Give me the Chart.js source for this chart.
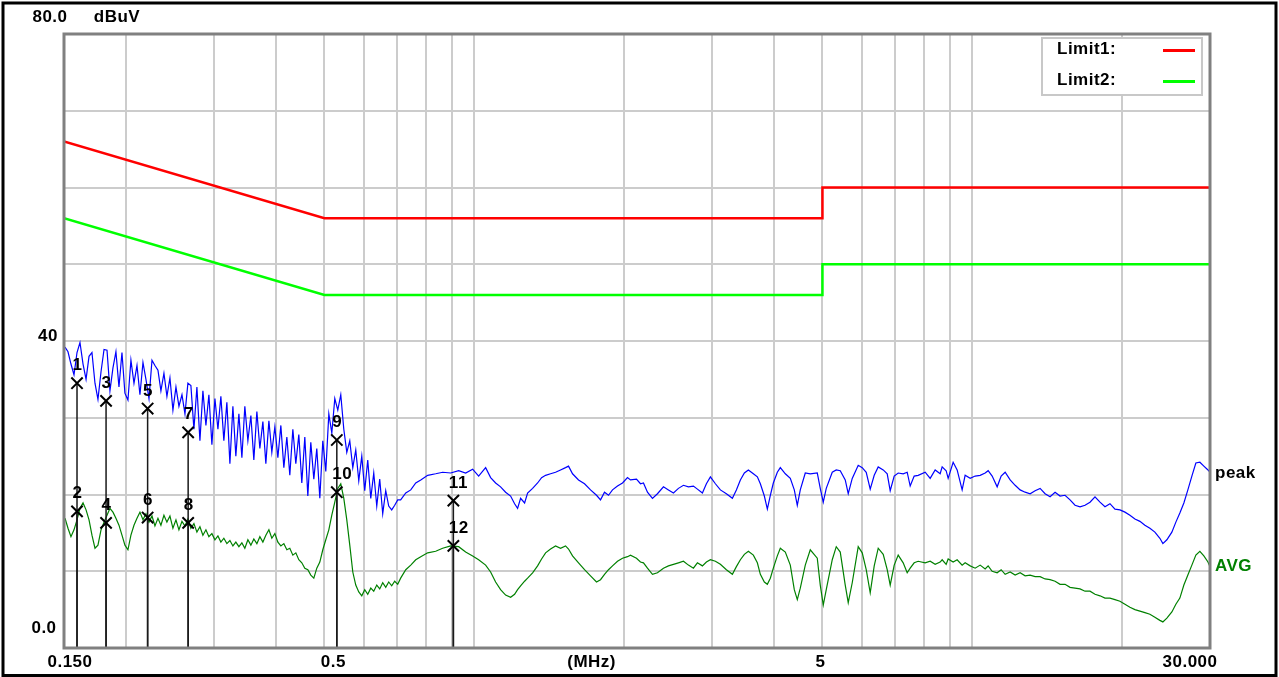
<!DOCTYPE html>
<html>
<head>
<meta charset="utf-8">
<title>Conducted emission dBuV</title>
<script src="https://cdn.jsdelivr.net/npm/chart.js@4.4.1/dist/chart.umd.min.js"></script>
<style>
  html, body { margin: 0; padding: 0; background: #fff; }
  #wrap { width: 1279px; height: 677px; }
</style>
</head>
<body>
<div id="wrap"><canvas id="emiChart" width="1279" height="677"></canvas></div>
<script>
// sweep 0.15 - 0.7 MHz (MHz, dBuV)
const freqLow = [
  0.1507, 0.1528, 0.1549, 0.1571, 0.1593, 0.1615, 0.1638, 0.1661, 0.1684, 0.1707,
  0.1731, 0.1755, 0.1780, 0.1805, 0.1830, 0.1855, 0.1881, 0.1907, 0.1934, 0.1961,
  0.1988, 0.2016, 0.2044, 0.2073, 0.2102, 0.2131, 0.2161, 0.2191, 0.2222, 0.2253,
  0.2284, 0.2316, 0.2348, 0.2381, 0.2414, 0.2448, 0.2482, 0.2517, 0.2552, 0.2588,
  0.2624, 0.2660, 0.2697, 0.2735, 0.2773, 0.2812, 0.2851, 0.2891, 0.2931, 0.2972,
  0.3014, 0.3056, 0.3098, 0.3141, 0.3185, 0.3230, 0.3275, 0.3320, 0.3367, 0.3414,
  0.3461, 0.3510, 0.3559, 0.3608, 0.3659, 0.3710, 0.3762, 0.3814, 0.3868, 0.3921,
  0.3976, 0.4032, 0.4088, 0.4145, 0.4203, 0.4261, 0.4321, 0.4381, 0.4442, 0.4504,
  0.4567, 0.4631, 0.4695, 0.4761, 0.4827, 0.4895, 0.4963, 0.5032, 0.5103, 0.5174,
  0.5246, 0.5319, 0.5393, 0.5469, 0.5545, 0.5622, 0.5701, 0.5780, 0.5861, 0.5943,
  0.6025, 0.6109, 0.6195, 0.6281, 0.6369, 0.6457, 0.6547, 0.6639, 0.6731, 0.6825,
  0.6920, 0.7017
];
const peakLow = [
  39.2, 38.6, 37.0, 35.6, 38.5, 39.8, 37.0, 35.0, 38.0, 38.5,
  34.5, 32.4, 36.0, 38.9, 38.8, 33.5, 36.5, 38.6, 34.0, 38.5,
  33.2, 32.3, 37.5, 34.5, 36.8, 33.0, 37.2, 35.0, 32.5, 37.5,
  36.8, 36.2, 33.5, 35.8, 32.8, 35.2, 31.0, 34.0, 31.5, 33.0,
  30.5, 34.5, 34.2, 28.5, 34.0, 27.0, 33.5, 29.0, 33.0, 26.5,
  32.5, 28.5, 32.8, 27.0, 32.0, 24.0, 31.5, 25.0, 30.5, 24.8,
  31.5, 27.0, 30.3, 24.5, 30.8, 26.0, 29.5, 24.0, 29.6, 25.5,
  28.8, 24.8, 29.0, 23.5, 27.5, 22.5, 28.5, 24.0, 27.8, 21.5,
  27.5, 19.8, 26.8, 22.0, 26.0, 19.5, 27.0, 23.0, 30.5, 28.0,
  32.5, 31.0, 33.0, 28.5, 25.5, 27.0, 23.5, 25.8, 21.8, 25.0,
  20.5, 24.5, 19.5, 22.8, 18.5, 22.0, 17.5, 20.5, 18.5, 18.0,
  18.6, 19.3
];
const avgLow = [
  16.9, 15.6, 14.5, 15.4, 16.7, 18.2, 18.9, 18.0, 16.7, 14.7,
  13.0, 13.4, 15.4, 16.4, 17.3, 18.2, 17.7, 16.9, 16.0, 14.7,
  13.4, 12.8, 14.7, 16.0, 16.9, 17.7, 16.7, 17.5, 16.4, 17.2,
  15.9, 16.9, 16.0, 17.3, 16.4, 17.2, 15.6, 16.7, 15.4, 16.5,
  15.9, 16.8, 15.6, 16.2, 15.1, 15.8, 14.7, 15.4, 14.5, 14.9,
  14.1, 14.6, 13.8, 14.3, 13.6, 14.0, 13.3, 13.8, 13.2, 13.7,
  13.0, 14.1, 13.4, 14.2, 13.6, 14.5, 13.8, 14.7, 15.4, 14.3,
  14.9, 13.8, 13.3, 13.6, 12.8, 13.0, 12.1, 12.4, 11.5, 11.1,
  10.4, 10.2, 9.5, 9.1, 10.4, 11.2, 12.8, 14.1, 15.4, 17.3,
  19.0, 20.8, 21.4, 19.5, 16.7, 13.4, 9.9, 8.2, 7.3, 6.8,
  7.6, 7.0, 7.8, 7.4, 8.2, 7.7, 8.5, 7.9, 8.6, 8.1,
  8.7, 8.3
];

// sweep 0.7 - 30 MHz
const freqHigh = [
  0.7113, 0.7283, 0.7453, 0.7627, 0.7806, 0.8060, 0.8364, 0.8637, 0.8963, 0.9301,
  0.9606, 0.9922, 1.0201, 1.0536, 1.0782, 1.1034, 1.1290, 1.1555, 1.1826, 1.2046,
  1.2214, 1.2385, 1.2616, 1.2792, 1.3091, 1.3397, 1.3646, 1.3901, 1.4225, 1.4557,
  1.4897, 1.5244, 1.5457, 1.5746, 1.6189, 1.6644, 1.7112, 1.7592, 1.7921, 1.8255,
  1.8596, 1.8942, 1.9385, 1.9838, 2.0301, 2.0584, 2.1162, 2.1557, 2.1857, 2.2265,
  2.2785, 2.3317, 2.3973, 2.4533, 2.5107, 2.5693, 2.6293, 2.6907, 2.7535, 2.8048,
  2.8703, 2.9238, 2.9784, 3.0480, 3.1192, 3.2069, 3.2970, 3.3585, 3.4211, 3.4848,
  3.5499, 3.6328, 3.7005, 3.7521, 3.8221, 3.8754, 3.9294, 3.9842, 4.0585, 4.1151,
  4.2111, 4.3094, 4.3897, 4.4510, 4.5130, 4.6184, 4.7262, 4.8816, 4.9497, 5.0188,
  5.0888, 5.2319, 5.3294, 5.4290, 5.5557, 5.6331, 5.7381, 5.8994, 6.0094, 6.1215,
  6.2356, 6.3520, 6.4705, 6.6216, 6.7451, 6.8392, 6.9667, 7.0967, 7.2624, 7.3979,
  7.5010, 7.6410, 7.7835, 8.0396, 8.2274, 8.4195, 8.6162, 8.6962, 8.8583, 8.9406,
  9.1494, 9.3200, 9.5377, 9.6708, 9.8987, 10.130, 10.367, 10.609, 10.757, 10.958,
  11.214, 11.423, 11.636, 11.908, 12.186, 12.470, 12.762, 13.060, 13.365, 13.677,
  13.996, 14.322, 14.657, 14.999, 15.349, 15.707, 16.074, 16.449, 16.833, 17.226,
  17.628, 18.040, 18.461, 18.892, 19.333, 19.784, 20.246, 20.718, 21.202, 21.697,
  22.203, 22.722, 23.252, 23.795, 24.127, 24.577, 25.151, 25.620, 26.098, 26.586,
  27.082, 27.588, 28.102, 28.627, 29.160, 29.719, 30.000
];
const peakHigh = [
  19.3, 20.2, 20.6, 21.5, 21.9, 22.5, 22.7, 22.9, 22.8, 23.1,
  22.8, 23.3, 22.4, 23.5, 22.2, 21.5, 21.0, 20.3, 19.8, 18.8,
  18.2, 19.5, 18.9, 20.2, 20.8, 21.5, 22.2, 22.5, 22.7, 22.9,
  23.2, 23.5, 23.7, 22.7, 21.9, 21.4, 20.6, 19.9, 19.3, 20.3,
  19.9, 20.6, 21.1, 21.5, 22.2, 21.9, 22.0, 21.4, 21.5, 20.3,
  19.5, 20.1, 21.0, 20.6, 20.2, 20.8, 21.2, 21.0, 21.1, 20.7,
  20.2, 21.4, 22.3, 21.4, 20.6, 20.1, 19.5, 20.6, 21.9, 22.8,
  23.2, 22.7, 22.3, 21.4, 19.8, 18.1, 19.9, 21.5, 22.9, 23.5,
  22.7, 22.1, 20.6, 18.6, 20.6, 22.8, 22.7, 22.8, 20.8, 19.0,
  20.8, 22.9, 23.2, 23.1, 21.9, 20.1, 22.1, 23.8, 23.5, 22.9,
  20.7, 22.5, 23.6, 23.2, 22.7, 20.5, 22.4, 22.8, 22.7, 22.9,
  21.1, 22.4, 22.5, 22.9, 22.1, 23.2, 22.7, 23.6, 23.1, 22.1,
  24.2, 23.2, 20.6, 22.5, 22.1, 22.4, 22.5, 22.8, 23.1, 22.4,
  21.0, 22.4, 22.9, 21.9, 21.2, 20.6, 20.3, 20.1, 20.5, 20.8,
  20.1, 19.7, 20.3, 19.8, 19.9, 19.3, 18.6, 18.4, 18.6, 19.0,
  19.7, 19.0, 18.4, 18.8, 18.1, 18.0, 17.7, 17.3, 16.8, 16.5,
  16.0, 15.6, 15.1, 14.3, 13.6, 14.1, 15.1, 16.4, 17.6, 18.9,
  20.6, 22.4, 24.1, 24.2, 23.7, 23.2, 22.9
];
const avgHigh = [
  9.1, 10.2, 10.8, 11.5, 11.9, 12.4, 12.6, 13.0, 13.3, 13.2,
  12.5, 12.0, 11.5, 10.8, 9.9, 8.6, 7.6, 6.9, 6.6, 7.0,
  7.6, 8.1, 8.7, 9.1, 9.8, 10.7, 11.6, 12.4, 12.9, 13.3,
  13.0, 13.3, 12.9, 12.0, 11.1, 10.2, 9.4, 8.6, 8.9, 9.6,
  10.2, 10.7, 11.3, 11.7, 11.9, 12.1, 11.7, 11.2, 11.1, 10.4,
  9.6, 9.8, 10.4, 10.7, 10.9, 11.1, 11.3, 10.8, 10.4, 11.1,
  10.7, 11.2, 11.5, 11.3, 10.9, 10.2, 9.6, 10.6, 11.5, 12.2,
  12.6, 12.1, 11.1, 9.6, 8.6, 8.3, 9.1, 10.4, 12.0, 13.0,
  12.5, 10.8, 7.6, 6.3, 7.8, 10.8, 12.8, 11.7, 8.2, 5.6,
  7.6, 11.5, 13.2, 12.5, 8.2, 5.9, 8.5, 13.2, 12.4, 10.2,
  7.2, 10.7, 13.0, 12.2, 10.2, 8.2, 10.8, 12.1, 11.1, 9.8,
  10.4, 11.1, 11.3, 11.1, 11.3, 10.9, 11.2, 11.5, 10.9, 11.6,
  11.2, 11.5, 10.8, 11.1, 10.7, 10.4, 10.8, 10.3, 10.7, 10.0,
  9.8, 10.2, 9.6, 9.9, 9.5, 9.8, 9.4, 9.5, 9.3, 9.3,
  9.0, 8.9, 8.7, 8.3, 8.3, 7.9, 7.8, 7.7, 7.4, 7.4,
  7.0, 6.8, 6.5, 6.5, 6.3, 6.1, 5.7, 5.3, 5.0, 4.8,
  4.6, 4.4, 4.0, 3.6, 3.4, 3.9, 4.7, 5.7, 6.5, 8.2,
  9.5, 10.8, 12.1, 12.6, 12.0, 11.2, 10.6
];

// limit lines
const limitFreq = [0.15, 0.5, 5, 5, 30];
const limit1Level = [66, 56, 56, 60, 60];
const limit2Level = [56, 46, 46, 50, 50];

// markers
const markerNo = ['1', '2', '3', '4', '5', '6', '7', '8', '9', '10', '11', '12'];
const markerFreq = [0.1593, 0.1593, 0.1822, 0.1822, 0.2208, 0.2208, 0.2663, 0.2663, 0.5295, 0.5295, 0.9076, 0.9076];
const markerLevel = [34.5, 17.8, 32.2, 16.3, 31.2, 17.0, 28.1, 16.3, 27.1, 20.3, 19.2, 13.3];

// axis
const xGridMHz = [0.2, 0.3, 0.4, 0.5, 0.6, 0.7, 0.8, 0.9, 1, 2, 3, 4, 5, 6, 7, 8, 9, 10, 20];
const xTickText = ['0.150', '0.5', '(MHz)', '5', '30.000'];
const xTickAt = [0.15, 0.5, 1.72, 5, 30];
const yTickText = ['80.0', '40', '0.0'];
const yTickAt = [80, 40, 0];

const FONT = 'bold 17px "Liberation Sans", Arial, sans-serif';
const pts = (xs, ys) => xs.map((x, i) => ({ x: x, y: ys[i] }));

const freqAll = freqLow.concat(freqHigh);
const peakAll = peakLow.concat(peakHigh);
const avgAll = avgLow.concat(avgHigh);

function text(ctx, str, x, y, align, color) {
  ctx.fillStyle = color || '#000';
  ctx.textAlign = align || 'center';
  ctx.textBaseline = 'middle';
  ctx.fillText(str, x, y);
}

const emiDecor = {
  id: 'emiDecor',
  beforeDraw(chart) {
    const ctx = chart.ctx;
    ctx.save();
    ctx.fillStyle = '#fff';
    ctx.fillRect(0, 0, chart.width, chart.height);
    ctx.restore();
  },
  afterDatasetsDraw(chart) {
    // marker numbers above the crosses
    const ctx = chart.ctx;
    const meta = chart.getDatasetMeta(chart.data.datasets.length - 1);
    ctx.save();
    ctx.font = FONT;
    ctx.letterSpacing = '0.5px';
    ctx.fillStyle = '#000';
    ctx.textAlign = 'left';
    ctx.textBaseline = 'alphabetic';
    meta.data.forEach((pt, i) => {
      ctx.fillText(markerNo[i], pt.x - 4.5, pt.y - 13);
    });
    ctx.restore();
  },
  afterDraw(chart) {
    const ctx = chart.ctx;
    const a = chart.chartArea;
    const xs = chart.scales.x;
    const ys = chart.scales.y;
    ctx.save();

    // plot border
    ctx.strokeStyle = '#808080';
    ctx.lineWidth = 3;
    ctx.strokeRect(a.left, a.top, a.right - a.left, a.bottom - a.top);

    // outer frame
    ctx.strokeStyle = '#000';
    ctx.lineWidth = 3;
    ctx.strokeRect(3, 3, chart.width - 6, chart.height - 4.5);

    ctx.font = FONT;
    ctx.letterSpacing = '0.5px';

    // y labels
    const yOff = [-16.5, -4.5, -19.5];
    const yX = [50, 48, 44];
    yTickText.forEach((t, i) => text(ctx, t, yX[i], ys.getPixelForValue(yTickAt[i]) + yOff[i]));
    text(ctx, 'dBuV', 117, ys.getPixelForValue(80) - 16.5);

    // x labels
    const xOff = [6, 9, 0, -2, -20];
    xTickText.forEach((t, i) => text(ctx, t, xs.getPixelForValue(xTickAt[i]) + xOff[i], a.bottom + 14));

    // trace names at the right end
    text(ctx, 'peak', a.right + 5, ys.getPixelForValue(peakAll[peakAll.length - 1]) + 1, 'left', '#000');
    text(ctx, 'AVG', a.right + 5, ys.getPixelForValue(avgAll[avgAll.length - 1]) - 0.5, 'left', '#008000');

    // legend box
    const bx = a.right - 168, by = a.top + 4, bw = 160, bh = 57;
    ctx.fillStyle = '#fff';
    ctx.fillRect(bx, by, bw, bh);
    ctx.strokeStyle = '#c8c8c8';
    ctx.lineWidth = 2;
    ctx.strokeRect(bx, by, bw, bh);
    const legendText = ['Limit1:', 'Limit2:'];
    const legendColor = ['#ff0000', '#00ff00'];
    legendText.forEach((t, i) => {
      const ly = by + 11.5 + i * 31;
      text(ctx, t, bx + 15, ly, 'left', '#000');
      ctx.strokeStyle = legendColor[i];
      ctx.lineWidth = 3;
      ctx.beginPath();
      ctx.moveTo(bx + 121, ly + 1);
      ctx.lineTo(bx + 153, ly + 1);
      ctx.stroke();
    });
    ctx.restore();
  }
};

const markerLines = markerFreq.map((f, i) => ({
  label: 'M' + markerNo[i],
  data: [{ x: f, y: markerLevel[i] }, { x: f, y: 0 }],
  borderColor: '#1a1a1a',
  borderWidth: 1.5,
  pointRadius: 0,
  order: 1
}));

new Chart(document.getElementById('emiChart'), {
  type: 'line',
  data: {
    datasets: [
      { label: 'Limit1', data: pts(limitFreq, limit1Level), borderColor: '#ff0000', borderWidth: 2.5, pointRadius: 0, order: 3 },
      { label: 'Limit2', data: pts(limitFreq, limit2Level), borderColor: '#00ff00', borderWidth: 2.5, pointRadius: 0, order: 3 },
      { label: 'peak', data: pts(freqAll, peakAll), borderColor: '#0000ff', borderWidth: 1.2, pointRadius: 0, order: 2 },
      { label: 'AVG', data: pts(freqAll, avgAll), borderColor: '#008000', borderWidth: 1.2, pointRadius: 0, order: 2 }
    ].concat(markerLines).concat([{
      label: 'markers',
      data: pts(markerFreq, markerLevel),
      showLine: false,
      pointStyle: 'crossRot',
      pointRadius: 8,
      pointBorderWidth: 2,
      pointBorderColor: '#000',
      borderColor: '#000',
      order: 0
    }])
  },
  options: {
    responsive: false,
    devicePixelRatio: 1,
    animation: false,
    layout: { padding: { left: 64, right: 69, top: 34, bottom: 29 } },
    plugins: { legend: { display: false }, tooltip: { enabled: false } },
    elements: { line: { tension: 0 } },
    scales: {
      x: {
        type: 'logarithmic',
        min: 0.15,
        max: 30,
        afterBuildTicks: s => { s.ticks = xGridMHz.map(v => ({ value: v })); },
        afterFit: s => { s.height = 0; },
        ticks: { display: false },
        grid: { color: '#cccccc', lineWidth: 2, drawTicks: false },
        border: { display: false }
      },
      y: {
        type: 'linear',
        min: 0,
        max: 80,
        ticks: { display: false, stepSize: 10 },
        afterFit: s => { s.width = 0; },
        grid: { color: '#cccccc', lineWidth: 2, drawTicks: false },
        border: { display: false }
      }
    }
  },
  plugins: [emiDecor]
});
</script>
</body>
</html>
